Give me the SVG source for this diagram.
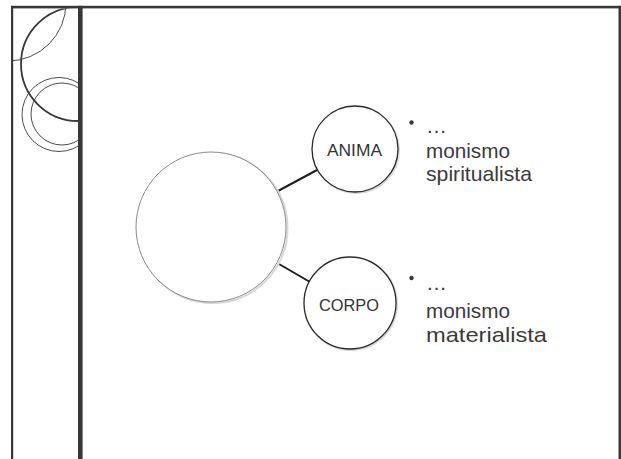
<svg xmlns="http://www.w3.org/2000/svg" width="621" height="459" viewBox="0 0 621 459">
  <defs>
    <style>
      .frame { fill: #38383a; }
      .deco { fill: none; stroke: #38383a; }
      .node { fill: #ffffff; stroke: #2a2a2a; stroke-width: 1.3; }
      .shadow { fill: none; stroke: #d8d8d8; stroke-width: 2; }
      .label { font-family: "Gill Sans", "Liberation Sans", Arial, sans-serif; font-size: 16.5px; fill: #333333; text-anchor: middle; }
      .body { font-family: "Gill Sans", "Liberation Sans", Arial, sans-serif; font-size: 21px; fill: #3a3a3a; }
      .conn { stroke: #1e1e1e; stroke-width: 2; stroke-linecap: round; fill: none; }
      .bullet { fill: #3a3a3a; }
    </style>
    <clipPath id="panel">
      <rect x="13" y="8.5" width="65" height="451"/>
    </clipPath>
  </defs>

  <rect width="621" height="459" fill="#ffffff"/>

  <!-- decorative circles -->
  <g id="decoration" clip-path="url(#panel)">
    <circle class="deco" cx="78" cy="64" r="57" stroke-width="1.8"/>
    <circle class="deco" cx="8" cy="3" r="58" stroke-width="0.9"/>
    <circle class="deco" cx="59" cy="114.5" r="37" stroke-width="0.9"/>
    <circle class="deco" cx="62" cy="114" r="31" stroke-width="0.9"/>
  </g>

  <!-- frame -->
  <g id="frame">
    <rect class="frame" x="11" y="5.8" width="610" height="2.6"/>
    <rect class="frame" x="11" y="5.8" width="2.2" height="453.2"/>
    <rect class="frame" x="618.5" y="5.8" width="2.5" height="453.2"/>
    <rect class="frame" x="78" y="5.8" width="4.6" height="453.2"/>
  </g>

  <!-- connectors -->
  <g id="connectors">
    <line class="conn" x1="278" y1="191" x2="317" y2="170"/>
    <line class="conn" x1="279" y1="264" x2="310" y2="282"/>
  </g>

  <!-- center node -->
  <g id="node-center">
    <circle class="shadow" cx="212.5" cy="228" r="75"/>
    <circle cx="211" cy="227" r="75" fill="#ffffff" stroke="#8a8a8a" stroke-width="1"/>
  </g>

  <!-- ANIMA node -->
  <g id="node-anima">
    <circle class="shadow" cx="356" cy="150" r="43"/>
    <circle class="node" cx="355" cy="149" r="43"/>
    <text class="label" x="354.5" y="155.5" textLength="55" lengthAdjust="spacingAndGlyphs">ANIMA</text>
  </g>

  <!-- CORPO node -->
  <g id="node-corpo">
    <circle class="shadow" cx="351" cy="304" r="46"/>
    <circle class="node" cx="350" cy="303" r="46"/>
    <text class="label" x="349" y="310.5" textLength="60" lengthAdjust="spacingAndGlyphs">CORPO</text>
  </g>

  <!-- ANIMA notes -->
  <g id="note-anima">
    <circle class="bullet" cx="411.5" cy="122.5" r="2.2"/>
    <text class="body" x="426" y="133">…</text>
    <text class="body" x="426" y="158" textLength="84" lengthAdjust="spacingAndGlyphs">monismo</text>
    <text class="body" x="426" y="181" textLength="106" lengthAdjust="spacingAndGlyphs">spiritualista</text>
  </g>

  <!-- CORPO notes -->
  <g id="note-corpo">
    <circle class="bullet" cx="411.5" cy="278" r="2.2"/>
    <text class="body" x="426" y="290">…</text>
    <text class="body" x="426" y="318" textLength="84" lengthAdjust="spacingAndGlyphs">monismo</text>
    <text class="body" x="426" y="342" textLength="121" lengthAdjust="spacingAndGlyphs">materialista</text>
  </g>
</svg>
